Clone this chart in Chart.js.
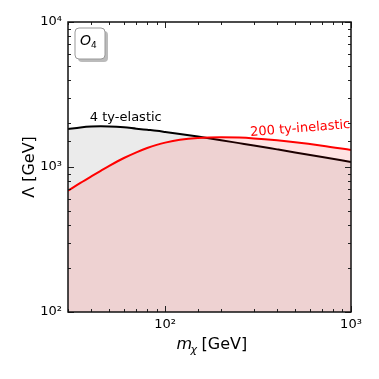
<!DOCTYPE html>
<html>
<head>
<meta charset="utf-8">
<script src="https://cdn.jsdelivr.net/npm/chart.js@4.4.1/dist/chart.umd.min.js"></script>
<style>
  html, body { margin: 0; padding: 0; background: #fff; }
  #wrap { width: 379px; height: 379px; }
</style>
</head>
<body>
<div id="wrap"><canvas id="grafico" width="379" height="379"></canvas></div>
<script>
// Dados (m_chi em GeV, Lambda em GeV)
const massas = [30, 35, 40, 45, 50, 60, 70, 80, 90, 100, 120, 150, 200, 250, 300, 400, 500, 700, 1000];
const elastico = [1825, 1875, 1902, 1908, 1906, 1881, 1837, 1805, 1777, 1746, 1691, 1621, 1530, 1461, 1407, 1323, 1261, 1172, 1083];
const inelastico = [687, 777, 861, 941, 1018, 1154, 1263, 1352, 1421, 1473, 1540, 1585, 1603, 1595, 1575, 1528, 1483, 1403, 1310];
const rotuloElastico = "4 ty-elastic";
const rotuloInelastico = "200 ty-inelastic";
const potencias = [100, 1000, 10000];

const fonte = "'DejaVu Sans', sans-serif";

function pontos(ys) {
  return massas.map((m, i) => ({ x: m, y: ys[i] }));
}

function sobrescrito(v) {
  const mapa = { "2": "\u00b2", "3": "\u00b3", "4": "\u2074" };
  const e = String(Math.round(Math.log10(v)));
  return "10" + mapa[e];
}

function ehPotencia(v) {
  const e = Math.log10(v);
  return Math.abs(e - Math.round(e)) < 1e-9;
}

// Ticks para dentro, borda, textos e caixa O4
const extras = {
  id: "extras",
  afterDraw(chart) {
    const ctx = chart.ctx;
    const a = chart.chartArea;
    const sx = chart.scales.x;
    const sy = chart.scales.y;
    ctx.save();
    ctx.strokeStyle = "#222";
    ctx.lineWidth = 1;

    sx.ticks.forEach(t => {
      const px = Math.round(sx.getPixelForValue(t.value)) + 0.5;
      const len = ehPotencia(t.value) ? 6 : 3;
      ctx.beginPath();
      ctx.moveTo(px, a.bottom); ctx.lineTo(px, a.bottom - len);
      ctx.moveTo(px, a.top); ctx.lineTo(px, a.top + len);
      ctx.stroke();
    });
    sy.ticks.forEach(t => {
      const py = Math.round(sy.getPixelForValue(t.value)) + 0.5;
      const len = ehPotencia(t.value) ? 6 : 3;
      ctx.beginPath();
      ctx.moveTo(a.left, py); ctx.lineTo(a.left + len, py);
      ctx.moveTo(a.right, py); ctx.lineTo(a.right - len, py);
      ctx.stroke();
    });

    ctx.lineWidth = 1.5;
    ctx.strokeStyle = "#111";
    ctx.strokeRect(a.left, a.top, a.right - a.left, a.bottom - a.top);

    // rótulos das curvas
    ctx.font = "13px " + fonte;
    ctx.fillStyle = "#000";
    ctx.textAlign = "center";
    ctx.textBaseline = "alphabetic";
    ctx.fillText(rotuloElastico, sx.getPixelForValue(61.4), sy.getPixelForValue(2075));

    ctx.save();
    ctx.translate(sx.getPixelForValue(535), sy.getPixelForValue(1742));
    ctx.rotate(-0.08);
    ctx.fillStyle = "#f00";
    ctx.fillText(rotuloInelastico, 0, 0);
    ctx.restore();

    // caixa O4
    const bx = a.left + 7, by = a.top + 6, bw = 30, bh = 31;
    ctx.fillStyle = "#bbb";
    ctx.beginPath(); ctx.roundRect(bx + 3, by + 3, bw, bh, 4); ctx.fill();
    ctx.fillStyle = "#fff";
    ctx.strokeStyle = "#999";
    ctx.lineWidth = 1;
    ctx.beginPath(); ctx.roundRect(bx, by, bw, bh, 4); ctx.fill(); ctx.stroke();
    ctx.fillStyle = "#000";
    ctx.textAlign = "left";
    ctx.font = "italic 14px " + fonte;
    ctx.fillText("O", bx + 5, by + 17);
    ctx.font = "9px " + fonte;
    ctx.fillText("4", bx + 16, by + 20);

    // títulos dos eixos
    ctx.font = "italic 16px " + fonte;
    ctx.textAlign = "left";
    const cx = (a.left + a.right) / 2 + 5;
    ctx.fillText("m", cx - 38, 349);
    ctx.font = "italic 11px " + fonte;
    ctx.fillText("\u03c7", cx - 24, 353);
    ctx.font = "16px " + fonte;
    ctx.fillText("[GeV]", cx - 13, 349);

    ctx.save();
    ctx.translate(34, (a.top + a.bottom) / 2);
    ctx.rotate(-Math.PI / 2);
    ctx.textAlign = "center";
    ctx.fillText("\u039b [GeV]", 0, 0);
    ctx.restore();

    ctx.restore();
  }
};

new Chart(document.getElementById("grafico"), {
  type: "line",
  data: {
    datasets: [
      {
        label: rotuloInelastico,
        data: pontos(inelastico),
        borderColor: "#ff0000",
        backgroundColor: "rgba(255, 0, 0, 0.11)",
        borderWidth: 2,
        fill: "start",
        pointRadius: 0,
        cubicInterpolationMode: "monotone"
      },
      {
        label: rotuloElastico,
        data: pontos(elastico),
        borderColor: "#000000",
        backgroundColor: "rgba(0, 0, 0, 0.08)",
        borderWidth: 2,
        fill: "start",
        pointRadius: 0,
        cubicInterpolationMode: "monotone"
      }
    ]
  },
  options: {
    responsive: false,
    animation: false,
    devicePixelRatio: 1,
    layout: { padding: { left: 0, top: 22, right: 28, bottom: 0 } },
    plugins: {
      legend: { display: false },
      tooltip: { enabled: false }
    },
    scales: {
      x: {
        type: "logarithmic",
        min: 30,
        max: 1000,
        grid: { display: false, drawTicks: false },
        border: { display: false },
        afterFit: s => { s.height = 67; },
        ticks: {
          autoSkip: false,
          maxRotation: 0,
          padding: 5,
          color: "#000",
          font: { family: fonte, size: 13 },
          callback: v => (potencias.includes(v) ? sobrescrito(v) : "")
        }
      },
      y: {
        type: "logarithmic",
        min: 100,
        max: 10000,
        grid: { display: false, drawTicks: false },
        border: { display: false },
        afterFit: s => { s.width = 68; },
        ticks: {
          autoSkip: false,
          padding: 6,
          color: "#000",
          font: { family: fonte, size: 13 },
          callback: v => (potencias.includes(v) ? sobrescrito(v) : "")
        }
      }
    }
  },
  plugins: [extras]
});
</script>
</body>
</html>
